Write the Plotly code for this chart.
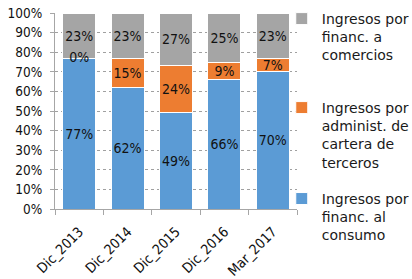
import plotly.graph_objects as go

categories = ["Dic_2013", "Dic_2014", "Dic_2015", "Dic_2016", "Mar_2017"]
consumo = [77, 62, 49, 66, 70]
cartera = [0, 15, 24, 9, 7]
comercios = [23, 23, 27, 25, 23]
names = [
    "Ingresos por<br>financ. al<br>consumo",
    "Ingresos por<br>administ. de<br>cartera de<br>terceros",
    "Ingresos por<br>financ. a<br>comercios",
]
colors = ["#5B9BD5", "#ED7D31", "#A5A5A5"]
series = [consumo, cartera, comercios]
legends = ["legend3", "legend2", "legend"]

FONT = "DejaVu Sans Condensed"
LFONT = "DejaVu Sans"
TXT = "#111111"
fig = go.Figure()
for vals, name, col, lg in zip(series, names, colors, legends):
    txt = [f"{v}%" if v > 0 else "" for v in vals]
    fig.add_trace(go.Bar(
        x=categories, y=vals, name=name, legend=lg,
        marker=dict(color=col, line=dict(color="white", width=1)),
        text=txt, textposition="inside", insidetextanchor="middle",
        textangle=0, constraintext="none",
        textfont=dict(family=FONT, size=14, color=TXT),
    ))

# label for zero-height segments, placed at the top of the blue segment
zx = [c for c, v in zip(categories, cartera) if v == 0]
zy = [b for b, v in zip(consumo, cartera) if v == 0]
zt = [f"{v}%" for v in cartera if v == 0]
fig.add_trace(go.Scatter(
    x=zx, y=zy, text=zt, mode="text", textposition="middle center",
    textfont=dict(family=FONT, size=14, color=TXT),
    showlegend=False, hoverinfo="skip",
))

legend_common = dict(
    xanchor="left", yanchor="top", valign="top",
    font=dict(family=LFONT, size=14, color="#1a1a1a"),
    bgcolor="rgba(0,0,0,0)", borderwidth=0,
    itemclick=False, itemdoubleclick=False,
)
LX = 0.937
fig.update_layout(
    width=412, height=279,
    margin=dict(l=55, r=115, t=13, b=70, autoexpand=False),
    paper_bgcolor="white", plot_bgcolor="white",
    barmode="stack", bargap=0.32,
    font=dict(family=FONT, color=TXT),
    legend=dict(x=LX, y=1.051, **legend_common),
    legend2=dict(x=LX, y=0.597, **legend_common),
    legend3=dict(x=LX, y=0.133, **legend_common),
    xaxis=dict(
        type="category", showline=True, linecolor="#A6A6A6", linewidth=1,
        ticks="outside", tickson="boundaries", ticklen=5, tickcolor="#A6A6A6",
        tickangle=-45, tickfont=dict(family=FONT, size=14, color=TXT),
        ticklabelstandoff=8,
        showgrid=False, automargin=False,
    ),
    yaxis=dict(
        range=[0, 100], dtick=10, ticksuffix="%",
        showline=True, linecolor="#A6A6A6", linewidth=1,
        ticks="outside", ticklen=4, tickcolor="#A6A6A6",
        tickfont=dict(family=FONT, size=13.5, color=TXT),
        ticklabelstandoff=5,
        showgrid=True, gridcolor="#A0A0A0", griddash="3px,3px", gridwidth=1,
        zeroline=False, automargin=False,
    ),
)
fig.write_html(
    "out.html",
    config={"displayModeBar": False},
    post_script="document.body.style.margin='0';document.body.style.overflow='hidden';",
)
